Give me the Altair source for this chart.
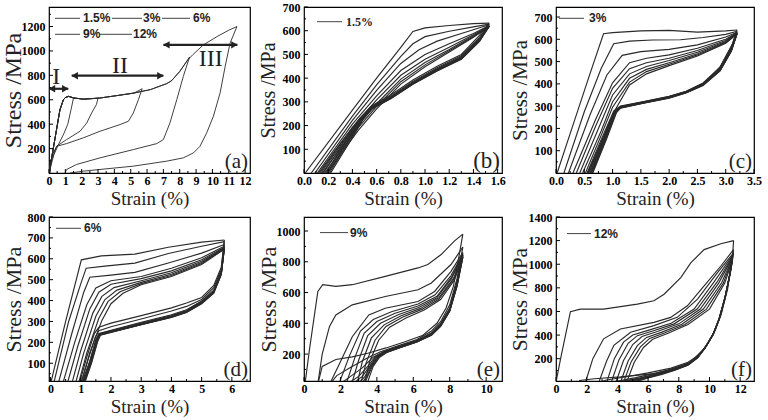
import altair as alt
import pandas as pd

SERIF = "Liberation Serif"
SANS = "Liberation Sans"
INK = "#2a2a2a"

# ---------------- panel (a): monotonic envelope + unloading of 5 samples ----------------
A_ENV_STRAIN = [0, 0.3, 0.67, 0.88, 1.0, 1.2, 1.5, 2.1, 3.1, 4.2, 5.2, 6.2, 7.2, 7.5, 8.0, 8.5, 8.8, 9.45, 10.3, 11.0, 11.5]
A_ENV_STRESS = [0, 230, 518, 600, 618, 628, 615, 605, 614, 635, 655, 683, 732, 756, 832, 928, 969, 1050, 1119, 1170, 1200]
A_UNLOAD = [
    [(1.5, 615), (1.35, 520), (1.15, 400), (0.9, 320), (0.6, 240), (0.3, 150), (0.1, 50), (0.03, 0)],
    [(3.0, 612), (2.9, 560), (2.61, 492), (2.31, 410), (1.9, 342), (1.08, 274), (0.47, 220), (0.1, 83), (0.04, 0)],
    [(5.7, 690), (5.47, 600), (5.16, 492), (4.86, 424), (4.35, 397), (3.12, 342), (2.1, 288), (1.08, 241), (0.47, 219), (0.16, 137), (0.06, 0)],
    [(8.6, 950), (8.22, 791), (7.82, 601), (7.4, 410), (7.0, 274), (6.6, 241), (5.16, 192), (3.12, 124), (1.69, 70), (1.08, 29), (0.98, 0)],
    [(11.5, 1200), (11.08, 1064), (10.78, 873), (10.47, 656), (10.06, 465), (9.65, 329), (9.24, 219), (8.84, 165), (8.22, 124), (7.2, 97), (5.16, 56), (3.12, 29), (2.1, 15), (1.29, 0)],
]
A_LEGEND = ["1.5%", "3%", "6%", "9%", "12%"]
A_ZONE_LABEL = ["I", "II", "III"]
A_ZONE_X = [0.45, 4.35, 9.9]
A_ZONE_Y = [790, 880, 930]
A_ARROW_FROM = [0.0, 1.39, 7.0]
A_ARROW_TO = [1.18, 7.0, 11.53]
A_ARROW_AT = [690, 797, 1050]

# ---------------- panel (b): 1.5% cycling ----------------
B_LOAD = [
    [(0.01, 0), (0.4, 265), (0.6, 400), (0.8, 530), (0.9, 597), (1.0, 612), (1.2, 622), (1.4, 630), (1.53, 632)],
    [(0.06, 0), (0.4, 240), (0.6, 372), (0.8, 492), (0.9, 545), (1.0, 575), (1.2, 598), (1.4, 616), (1.53, 628)],
    [(0.09, 0), (0.4, 222), (0.6, 348), (0.8, 462), (0.95, 520), (1.1, 556), (1.3, 588), (1.53, 625)],
    [(0.11, 0), (0.4, 206), (0.6, 325), (0.8, 432), (1.0, 500), (1.2, 545), (1.4, 588), (1.53, 622)],
    [(0.13, 0), (0.4, 192), (0.6, 308), (0.8, 412), (1.0, 480), (1.2, 530), (1.4, 583), (1.53, 620)],
    [(0.15, 0), (0.45, 203), (0.6, 292), (0.8, 396), (1.0, 466), (1.2, 521), (1.4, 579), (1.53, 620)],
    [(0.17, 0), (0.45, 192), (0.6, 281), (0.8, 385), (1.0, 456), (1.2, 515), (1.4, 575), (1.53, 618)],
    [(0.19, 0), (0.45, 181), (0.6, 270), (0.8, 375), (1.0, 448), (1.2, 510), (1.4, 572), (1.53, 618)],
]
B_UNLOAD = [
    [(1.53, 632), (1.45, 580), (1.3, 500), (1.1, 450), (0.9, 392), (0.72, 330), (0.56, 284), (0.46, 230), (0.3, 125), (0.12, 0)],
    [(1.53, 628), (1.45, 572), (1.3, 494), (1.1, 444), (0.9, 386), (0.72, 325), (0.56, 280), (0.46, 228), (0.32, 128), (0.14, 0)],
    [(1.53, 625), (1.45, 566), (1.3, 490), (1.1, 440), (0.9, 382), (0.72, 321), (0.56, 277), (0.47, 230), (0.33, 130), (0.16, 0)],
    [(1.53, 622), (1.45, 562), (1.3, 487), (1.1, 437), (0.9, 380), (0.72, 319), (0.56, 275), (0.47, 228), (0.34, 130), (0.18, 0)],
    [(1.53, 620), (1.45, 560), (1.3, 485), (1.1, 435), (0.9, 378), (0.72, 317), (0.56, 273), (0.48, 230), (0.35, 132), (0.19, 0)],
    [(1.53, 620), (1.45, 558), (1.3, 483), (1.1, 433), (0.9, 376), (0.72, 316), (0.56, 272), (0.48, 228), (0.36, 132), (0.2, 0)],
    [(1.53, 618), (1.45, 556), (1.3, 481), (1.1, 431), (0.9, 375), (0.72, 315), (0.56, 271), (0.49, 230), (0.37, 133), (0.21, 0)],
    [(1.53, 618), (1.45, 555), (1.3, 480), (1.1, 430), (0.9, 374), (0.72, 314), (0.56, 270), (0.49, 228), (0.38, 133), (0.22, 0)],
]

# ---------------- panel (c): 3% cycling ----------------
C_LOAD = [
    [(0.02, 0), (0.3, 215), (0.6, 445), (0.84, 625), (1.0, 630), (1.5, 638), (2.0, 640), (2.5, 632), (3.0, 638), (3.2, 642)],
    [(0.14, 0), (0.5, 275), (0.8, 470), (1.02, 580), (1.3, 592), (1.7, 597), (2.2, 598), (2.6, 608), (3.0, 622), (3.2, 636)],
    [(0.22, 0), (0.6, 260), (0.9, 440), (1.17, 528), (1.5, 545), (2.0, 555), (2.5, 575), (3.0, 610), (3.2, 632)],
    [(0.3, 0), (0.7, 240), (1.0, 405), (1.3, 495), (1.6, 515), (2.0, 530), (2.5, 560), (3.0, 600), (3.2, 630)],
    [(0.36, 0), (0.7, 210), (1.0, 380), (1.3, 468), (1.6, 495), (2.0, 515), (2.5, 550), (3.0, 595), (3.2, 628)],
    [(0.42, 0), (0.75, 200), (1.0, 350), (1.3, 445), (1.6, 478), (2.0, 505), (2.5, 542), (3.0, 590), (3.2, 628)],
    [(0.47, 0), (0.8, 190), (1.0, 320), (1.3, 425), (1.6, 465), (2.0, 495), (2.5, 535), (3.0, 587), (3.2, 626)],
    [(0.52, 0), (0.8, 170), (1.0, 295), (1.3, 408), (1.6, 455), (2.0, 488), (2.5, 530), (3.0, 584), (3.2, 625)],
    [(0.56, 0), (0.85, 165), (1.05, 285), (1.3, 395), (1.6, 445), (2.0, 482), (2.5, 525), (3.0, 582), (3.2, 625)],
]
C_UNLOAD = [
    [(3.2, 642), (3.12, 580), (2.9, 476), (2.6, 401), (2.3, 363), (2.0, 340), (1.55, 318), (1.14, 298), (1.02, 278), (0.8, 150), (0.55, 0)],
    [(3.2, 636), (3.1, 566), (2.9, 474), (2.6, 404), (2.3, 367), (2.0, 344), (1.55, 321), (1.14, 300), (1.03, 280), (0.82, 150), (0.57, 0)],
    [(3.2, 632), (3.1, 560), (2.9, 470), (2.6, 402), (2.3, 366), (2.0, 343), (1.55, 320), (1.14, 298), (1.04, 278), (0.83, 150), (0.58, 0)],
    [(3.2, 630), (3.1, 556), (2.9, 467), (2.6, 400), (2.3, 365), (2.0, 342), (1.55, 318), (1.14, 296), (1.04, 276), (0.84, 150), (0.6, 0)],
    [(3.2, 628), (3.1, 553), (2.9, 464), (2.6, 398), (2.3, 363), (2.0, 340), (1.55, 317), (1.14, 295), (1.05, 275), (0.85, 150), (0.61, 0)],
    [(3.2, 628), (3.1, 551), (2.9, 462), (2.6, 396), (2.3, 362), (2.0, 339), (1.55, 316), (1.14, 294), (1.05, 274), (0.86, 150), (0.62, 0)],
    [(3.2, 626), (3.1, 549), (2.9, 460), (2.6, 395), (2.3, 361), (2.0, 338), (1.55, 315), (1.14, 293), (1.06, 273), (0.87, 150), (0.63, 0)],
    [(3.2, 625), (3.1, 548), (2.9, 459), (2.6, 394), (2.3, 360), (2.0, 337), (1.55, 314), (1.14, 292), (1.06, 272), (0.88, 150), (0.64, 0)],
    [(3.2, 625), (3.1, 547), (2.9, 458), (2.6, 393), (2.3, 359), (2.0, 336), (1.55, 313), (1.14, 291), (1.07, 271), (0.89, 150), (0.65, 0)],
]

# ---------------- panel (d): 6% cycling ----------------
D_LOAD = [
    [(0.0, 0), (0.5, 300), (1.02, 595), (1.68, 614), (2.79, 622), (3.9, 655), (5.0, 680), (5.75, 690)],
    [(0.1, 0), (0.6, 300), (1.0, 480), (1.18, 555), (1.8, 565), (2.79, 579), (3.9, 625), (5.0, 660), (5.75, 682)],
    [(0.25, 0), (0.7, 240), (1.1, 440), (1.3, 512), (2.0, 522), (2.79, 535), (3.9, 580), (5.0, 627), (5.75, 668)],
    [(0.4, 0), (0.8, 200), (1.2, 380), (1.5, 460), (2.0, 495), (3.0, 515), (4.0, 555), (5.0, 605), (5.75, 660)],
    [(0.55, 0), (0.9, 180), (1.3, 360), (1.6, 440), (2.0, 478), (3.0, 505), (4.0, 542), (5.0, 595), (5.75, 655)],
    [(0.7, 0), (1.0, 160), (1.4, 340), (1.7, 420), (2.1, 462), (3.0, 495), (4.0, 533), (5.0, 588), (5.75, 652)],
    [(0.82, 0), (1.1, 150), (1.5, 325), (1.8, 405), (2.2, 450), (3.0, 487), (4.0, 526), (5.0, 582), (5.75, 650)],
    [(0.92, 0), (1.2, 150), (1.6, 315), (1.9, 395), (2.3, 442), (3.0, 481), (4.0, 520), (5.0, 577), (5.75, 648)],
    [(1.0, 0), (1.3, 150), (1.7, 305), (2.0, 385), (2.4, 435), (3.0, 476), (4.0, 515), (5.0, 573), (5.75, 646)],
]
D_UNLOAD = [
    [(5.75, 690), (5.65, 560), (5.4, 472), (5.0, 415), (4.5, 388), (4.0, 365), (3.0, 328), (2.0, 292), (1.6, 272), (1.45, 242), (1.2, 130), (0.95, 0)],
    [(5.75, 682), (5.65, 550), (5.4, 462), (5.0, 405), (4.5, 372), (4.0, 350), (3.0, 312), (2.0, 275), (1.6, 256), (1.48, 225), (1.25, 120), (1.0, 0)],
    [(5.75, 668), (5.65, 540), (5.4, 450), (5.0, 398), (4.5, 356), (4.0, 332), (3.0, 296), (2.0, 258), (1.6, 242), (1.5, 212), (1.3, 110), (1.02, 0)],
    [(5.75, 660), (5.65, 535), (5.4, 446), (5.0, 395), (4.5, 352), (4.0, 328), (3.0, 292), (2.0, 255), (1.6, 240), (1.5, 210), (1.3, 108), (1.04, 0)],
    [(5.75, 655), (5.65, 532), (5.4, 443), (5.0, 392), (4.5, 349), (4.0, 325), (3.0, 290), (2.0, 253), (1.62, 238), (1.52, 208), (1.32, 106), (1.06, 0)],
    [(5.75, 652), (5.65, 530), (5.4, 441), (5.0, 390), (4.5, 347), (4.0, 323), (3.0, 288), (2.0, 251), (1.62, 237), (1.53, 207), (1.33, 105), (1.08, 0)],
    [(5.75, 650), (5.65, 528), (5.4, 439), (5.0, 388), (4.5, 345), (4.0, 321), (3.0, 286), (2.0, 250), (1.63, 236), (1.54, 206), (1.34, 104), (1.09, 0)],
    [(5.75, 648), (5.65, 526), (5.4, 437), (5.0, 386), (4.5, 344), (4.0, 320), (3.0, 285), (2.0, 249), (1.64, 235), (1.55, 205), (1.35, 103), (1.1, 0)],
    [(5.75, 646), (5.65, 525), (5.4, 436), (5.0, 385), (4.5, 343), (4.0, 319), (3.0, 284), (2.0, 248), (1.65, 234), (1.56, 204), (1.36, 102), (1.12, 0)],
]

# ---------------- panel (e): 9% cycling ----------------
E_LOAD = [
    [(0.05, 0), (0.3, 230), (0.76, 607), (1.03, 651), (1.75, 640), (2.65, 651), (4.46, 705), (6.26, 760), (6.8, 782), (7.53, 847), (8.25, 934), (8.72, 980)],
    [(0.75, 0), (1.0, 200), (1.4, 380), (1.75, 454), (2.65, 520), (4.46, 574), (6.26, 618), (6.99, 662), (8.07, 782), (8.72, 895)],
    [(1.39, 0), (2.0, 150), (2.65, 313), (3.56, 454), (4.46, 498), (6.26, 542), (7.17, 607), (8.07, 738), (8.72, 860)],
    [(1.9, 0), (2.5, 190), (3.1, 350), (3.8, 425), (4.8, 475), (6.26, 525), (7.2, 585), (8.07, 710), (8.72, 850)],
    [(2.3, 0), (2.8, 180), (3.3, 335), (4.0, 412), (5.0, 465), (6.26, 512), (7.3, 575), (8.1, 700), (8.72, 845)],
    [(2.6, 0), (3.0, 160), (3.5, 320), (4.2, 400), (5.2, 457), (6.3, 503), (7.3, 566), (8.1, 690), (8.72, 840)],
    [(2.9, 0), (3.2, 150), (3.7, 305), (4.4, 390), (5.3, 448), (6.4, 497), (7.4, 565), (8.2, 690), (8.72, 835)],
    [(3.1, 0), (3.4, 140), (3.9, 290), (4.5, 380), (5.4, 440), (6.5, 492), (7.4, 556), (8.2, 680), (8.72, 830)],
    [(3.3, 0), (3.6, 150), (4.1, 290), (4.7, 375), (5.6, 435), (6.6, 487), (7.5, 555), (8.25, 680), (8.72, 828)],
]
E_UNLOAD = [
    [(8.72, 980), (8.5, 830), (8.2, 640), (7.8, 500), (7.3, 400), (6.5, 320), (5.5, 278), (4.5, 240), (3.5, 205), (2.65, 182), (1.75, 165), (1.0, 120), (0.75, 0)],
    [(8.72, 895), (8.4, 690), (8.0, 520), (7.5, 410), (7.0, 350), (6.2, 295), (5.2, 255), (4.2, 215), (3.4, 170), (2.5, 110), (1.8, 60), (1.39, 0)],
    [(8.72, 860), (8.4, 670), (8.0, 500), (7.5, 398), (7.0, 338), (6.2, 290), (5.2, 250), (4.4, 218), (3.8, 180), (3.2, 110), (2.5, 50), (1.9, 0)],
    [(8.72, 850), (8.4, 660), (8.0, 492), (7.5, 392), (7.0, 332), (6.2, 286), (5.2, 246), (4.4, 215), (3.9, 182), (3.5, 120), (3.0, 55), (2.3, 0)],
    [(8.72, 845), (8.4, 655), (8.0, 488), (7.5, 389), (7.0, 330), (6.2, 284), (5.2, 244), (4.4, 213), (3.95, 180), (3.6, 120), (3.2, 55), (2.6, 0)],
    [(8.72, 840), (8.4, 650), (8.0, 485), (7.5, 386), (7.0, 328), (6.2, 282), (5.2, 242), (4.45, 212), (4.0, 180), (3.65, 120), (3.35, 55), (2.9, 0)],
    [(8.72, 835), (8.4, 646), (8.0, 482), (7.5, 384), (7.0, 326), (6.2, 280), (5.2, 240), (4.5, 211), (4.05, 180), (3.7, 120), (3.45, 55), (3.1, 0)],
    [(8.72, 830), (8.4, 642), (8.0, 480), (7.5, 382), (7.0, 324), (6.2, 279), (5.2, 239), (4.5, 210), (4.1, 180), (3.75, 120), (3.5, 55), (3.3, 0)],
    [(8.72, 828), (8.4, 640), (8.0, 478), (7.5, 380), (7.0, 323), (6.2, 278), (5.2, 238), (4.55, 210), (4.15, 180), (3.8, 120), (3.6, 55), (3.45, 0)],
]

# ---------------- panel (f): 12% cycling ----------------
F_LOAD = [
    [(0.0, 0), (0.3, 200), (0.94, 598), (1.59, 620), (3.1, 620), (5.3, 662), (6.38, 690), (7.04, 746), (8.13, 886), (8.78, 1012), (9.65, 1124), (10.74, 1174), (11.57, 1200)],
    [(1.92, 0), (2.4, 200), (3.1, 368), (4.2, 452), (6.38, 508), (7.47, 550), (8.56, 648), (9.65, 817), (10.74, 985), (11.57, 1124)],
    [(2.79, 0), (3.3, 180), (3.77, 313), (4.86, 424), (6.38, 480), (7.9, 550), (9.22, 705), (10.52, 929), (11.57, 1096)],
    [(3.3, 0), (3.8, 200), (4.4, 340), (5.0, 400), (6.0, 440), (7.5, 500), (9.0, 620), (10.3, 850), (11.5, 1075)],
    [(3.6, 0), (4.1, 190), (4.7, 330), (5.3, 395), (6.3, 435), (7.7, 495), (9.2, 620), (10.5, 850), (11.5, 1065)],
    [(3.9, 0), (4.4, 185), (5.0, 320), (5.6, 388), (6.6, 430), (8.0, 495), (9.4, 620), (10.6, 840), (11.5, 1058)],
    [(4.2, 0), (4.7, 180), (5.3, 310), (5.9, 380), (6.9, 425), (8.2, 492), (9.6, 620), (10.8, 845), (11.5, 1050)],
    [(4.4, 0), (4.9, 175), (5.5, 300), (6.1, 372), (7.1, 420), (8.4, 490), (9.8, 620), (10.9, 840), (11.5, 1045)],
    [(4.6, 0), (5.1, 170), (5.7, 295), (6.3, 365), (7.3, 415), (8.6, 490), (10.0, 620), (11.0, 840), (11.5, 1040)],
]
F_UNLOAD = [
    [(11.57, 1200), (11.5, 1068), (11.18, 789), (10.74, 565), (10.3, 424), (9.65, 284), (8.78, 172), (7.9, 116), (6.38, 74), (4.2, 46), (2.5, 30), (1.5, 15)],
    [(11.57, 1124), (11.45, 1000), (11.15, 800), (10.8, 600), (10.4, 450), (9.9, 330), (9.3, 230), (8.6, 170), (7.5, 120), (6.0, 80), (4.5, 45), (3.3, 20), (2.79, 0)],
    [(11.57, 1096), (11.4, 950), (11.1, 760), (10.7, 560), (10.3, 420), (9.8, 310), (9.3, 220), (8.6, 160), (7.5, 112), (6.5, 78), (5.2, 40), (3.6, 0)],
    [(11.5, 1075), (11.35, 930), (11.05, 740), (10.65, 545), (10.25, 410), (9.75, 300), (9.25, 215), (8.6, 155), (7.6, 108), (6.6, 72), (5.5, 38), (4.0, 0)],
    [(11.5, 1065), (11.33, 920), (11.03, 730), (10.63, 540), (10.23, 405), (9.73, 297), (9.23, 212), (8.6, 152), (7.6, 106), (6.6, 70), (5.6, 38), (4.3, 0)],
    [(11.5, 1058), (11.32, 912), (11.02, 722), (10.62, 535), (10.22, 402), (9.72, 294), (9.22, 210), (8.6, 150), (7.6, 104), (6.7, 70), (5.7, 37), (4.5, 0)],
    [(11.5, 1050), (11.31, 905), (11.01, 716), (10.61, 530), (10.21, 399), (9.71, 292), (9.21, 208), (8.6, 148), (7.7, 104), (6.8, 70), (5.8, 37), (4.7, 0)],
    [(11.5, 1045), (11.3, 900), (11.0, 710), (10.6, 526), (10.2, 396), (9.7, 290), (9.2, 206), (8.6, 146), (7.7, 102), (6.8, 68), (5.9, 36), (4.9, 0)],
    [(11.5, 1040), (11.3, 895), (11.0, 705), (10.6, 522), (10.2, 394), (9.7, 288), (9.2, 204), (8.6, 145), (7.7, 100), (6.9, 67), (6.0, 36), (5.1, 0)],
]

# ---------------- tick values ----------------
A_XTICKS = list(range(0, 13))
A_YTICKS = [200, 400, 600, 800, 1000, 1200]
B_XTICKS = [0.0, 0.2, 0.4, 0.6, 0.8, 1.0, 1.2, 1.4, 1.6]
B_YTICKS = [100, 200, 300, 400, 500, 600, 700]
C_XTICKS = [0.0, 0.5, 1.0, 1.5, 2.0, 2.5, 3.0, 3.5]
C_YTICKS = [100, 200, 300, 400, 500, 600, 700]
D_XTICKS = [0, 1, 2, 3, 4, 5, 6]
D_YTICKS = [100, 200, 300, 400, 500, 600, 700, 800]
E_XTICKS = [0, 2, 4, 6, 8, 10]
E_YTICKS = [200, 400, 600, 800, 1000]
F_XTICKS = [0, 2, 4, 6, 8, 10, 12]
F_YTICKS = [200, 400, 600, 800, 1000, 1200, 1400]


def curve_frame(loads, unloads):
    rows = []
    for i, pts in enumerate(loads):
        for j, (sx, sy) in enumerate(pts):
            rows.append({"seg": f"L{i}", "seq": j, "strain": sx, "stress": sy})
    for i, pts in enumerate(unloads):
        for j, (sx, sy) in enumerate(pts):
            rows.append({"seg": f"U{i}", "seq": j, "strain": sx, "stress": sy})
    return pd.DataFrame(rows)


def a_frame():
    loads = []
    for un in A_UNLOAD:
        peak = un[0][0]
        pts = [(x, y) for x, y in zip(A_ENV_STRAIN, A_ENV_STRESS) if x < peak]
        pts.append(un[0])
        loads.append(pts)
    return curve_frame(loads, A_UNLOAD)


def minor(ticks, lo, hi):
    step = ticks[1] - ticks[0]
    vals = [t + step / 2 for t in ticks] + [ticks[0] - step / 2]
    return [v for v in vals if lo < v < hi]


ONE = pd.DataFrame({"k": [0]})


def panel(df, W, H, xdom, ydom, xticks, yticks, xfmt, ytitle_size, xtitle_y,
          label, label_size, legend, legend_font, extra=None, curve_width=1.15):
    xs = alt.Scale(domain=xdom, nice=False, zero=False)
    ys = alt.Scale(domain=ydom, nice=False, zero=False)
    xaxis = alt.Axis(values=xticks, format=xfmt, title="Strain (%)",
                     titleY=xtitle_y, titleBaseline="middle", labelPadding=2)
    yaxis = alt.Axis(values=yticks, format="d", title="Stress /MPa", titleFontSize=ytitle_size,
                     titleX=-36, titleY=H / 2, titleBaseline="middle", titleAlign="center",
                     titleAngle=270, labelPadding=4)
    curves = alt.Chart(df).mark_line(clip=True, strokeWidth=curve_width, color=INK).encode(
        x=alt.X("strain:Q", scale=xs, axis=xaxis),
        y=alt.Y("stress:Q", scale=ys, axis=yaxis),
        detail="seg:N",
        order="seq:Q",
    )
    xt = alt.Chart(pd.DataFrame({"v": xticks})).mark_rule(color="black", strokeWidth=1).encode(
        x=alt.X("v:Q", scale=xs, axis=xaxis), y=alt.value(H), y2=alt.value(H - 4))
    yt = alt.Chart(pd.DataFrame({"v": yticks})).mark_rule(color="black", strokeWidth=1).encode(
        y=alt.Y("v:Q", scale=ys, axis=yaxis), x=alt.value(0), x2=alt.value(4))
    xm = alt.Chart(pd.DataFrame({"v": minor(xticks, xdom[0], xdom[1])})).mark_rule(color="black", strokeWidth=1).encode(
        x=alt.X("v:Q", scale=xs, axis=xaxis), y=alt.value(H), y2=alt.value(H - 2))
    ym = alt.Chart(pd.DataFrame({"v": minor(yticks, ydom[0], ydom[1])})).mark_rule(color="black", strokeWidth=1).encode(
        y=alt.Y("v:Q", scale=ys, axis=yaxis), x=alt.value(0), x2=alt.value(2))
    layers = [curves, xt, yt, xm, ym]
    for (x1, x2, yy, tx, txt) in legend:
        layers.append(alt.Chart(ONE).mark_rule(color="#444", strokeWidth=1).encode(
            x=alt.value(x1), x2=alt.value(x2), y=alt.value(yy)))
        layers.append(alt.Chart(ONE).mark_text(align="left", baseline="middle", font=legend_font,
                                               fontWeight="bold", fontSize=12, color="#222").encode(
            x=alt.value(tx), y=alt.value(yy), text=alt.value(txt)))
    layers.append(alt.Chart(ONE).mark_text(align="right", baseline="alphabetic", font=SERIF,
                                           fontSize=label_size, color="#222").encode(
        x=alt.value(W - 2), y=alt.value(H - 5), text=alt.value(label)))
    if extra is not None:
        layers.extend(extra(xs, ys, xaxis, yaxis))
    return alt.layer(*layers).properties(width=W, height=H)


def a_extra(xs, ys, xaxis, yaxis):
    arr = pd.DataFrame({"x1": A_ARROW_FROM, "x2": A_ARROW_TO, "y": A_ARROW_AT})
    zones = pd.DataFrame({"x": A_ZONE_X, "y": A_ZONE_Y, "t": A_ZONE_LABEL})
    shaft = alt.Chart(arr).mark_rule(color="#222", strokeWidth=2.2).encode(
        x=alt.X("x1:Q", scale=xs, axis=xaxis), x2="x2:Q", y=alt.Y("y:Q", scale=ys, axis=yaxis))
    left = alt.Chart(arr).mark_point(shape="triangle-left", filled=True, size=55, color="#222",
                                     opacity=1, xOffset=3).encode(
        x=alt.X("x1:Q", scale=xs, axis=xaxis), y=alt.Y("y:Q", scale=ys, axis=yaxis))
    right = alt.Chart(arr).mark_point(shape="triangle-right", filled=True, size=55, color="#222",
                                      opacity=1, xOffset=-3).encode(
        x=alt.X("x2:Q", scale=xs, axis=xaxis), y=alt.Y("y:Q", scale=ys, axis=yaxis))
    txt = alt.Chart(zones).mark_text(font=SERIF, fontSize=24, color="#222", baseline="middle").encode(
        x=alt.X("x:Q", scale=xs, axis=xaxis), y=alt.Y("y:Q", scale=ys, axis=yaxis), text="t:N")
    return [shaft, left, right, txt]


A_LEG = [(6, 31, 11.3, 34, A_LEGEND[0]), (63, 93, 11.3, 94, A_LEGEND[1]), (113, 141, 11.3, 144, A_LEGEND[2]),
         (6, 31, 27.3, 34, A_LEGEND[3]), (50, 83, 27.3, 84, A_LEGEND[4])]

XT = 25
pa = panel(a_frame(), 201, 166, [0, 12.3], [0, 1360], A_XTICKS, A_YTICKS, "d", 24, XT,
           "(a)", 21, A_LEG, SANS, extra=a_extra, curve_width=0.9)
pb = panel(curve_frame(B_LOAD, B_UNLOAD), 198, 166, [0, 1.636], [0, 700], B_XTICKS, B_YTICKS, ".1f", 20, XT,
           "(b)", 23, [(13, 38, 14.7, 42, "1.5%")], SERIF)
pc = panel(curve_frame(C_LOAD, C_UNLOAD), 198, 166, [0, 3.5], [0, 745], C_XTICKS, C_YTICKS, ".1f", 21, XT,
           "(c)", 21, [(3, 28, 11.3, 33, "3%")], SANS)
pd_ = panel(curve_frame(D_LOAD, D_UNLOAD), 201, 164, [-0.05, 6.6], [15, 800], D_XTICKS, D_YTICKS, "d", 22, XT,
            "(d)", 21, [(7, 32, 11.3, 35, "6%")], SANS)
pe = panel(curve_frame(E_LOAD, E_UNLOAD), 198, 164, [0, 10.87], [25, 1091], E_XTICKS, E_YTICKS, "d", 22, XT,
           "(e)", 21, [(16, 44, 15.6, 46, "9%")], SANS)
pf = panel(curve_frame(F_LOAD, F_UNLOAD), 198, 164, [0, 12.9], [11, 1400], F_XTICKS, F_YTICKS, "d", 21.5, XT,
           "(f)", 21, [(11, 35, 16.6, 38, "12%")], SANS)

chart = alt.concat(pa, pb, pc, pd_, pe, pf, columns=3, spacing={"row": 44, "column": 54}).properties(
    bounds="flush",
    padding={"left": 0, "top": 0, "right": 0, "bottom": 0},
    background="white",
).configure_view(
    stroke="black", strokeWidth=1.2
).configure_axis(
    grid=False, domain=False, ticks=False,
    labelFont=SERIF, labelFontWeight="bold", labelFontSize=12, labelColor="black",
    labelFlush=False, labelOverlap=False,
    titleFont=SERIF, titleFontWeight="normal", titleFontSize=19, titleColor="#222",
)

chart.save("out.html", embed_options={"renderer": "svg", "actions": False})
